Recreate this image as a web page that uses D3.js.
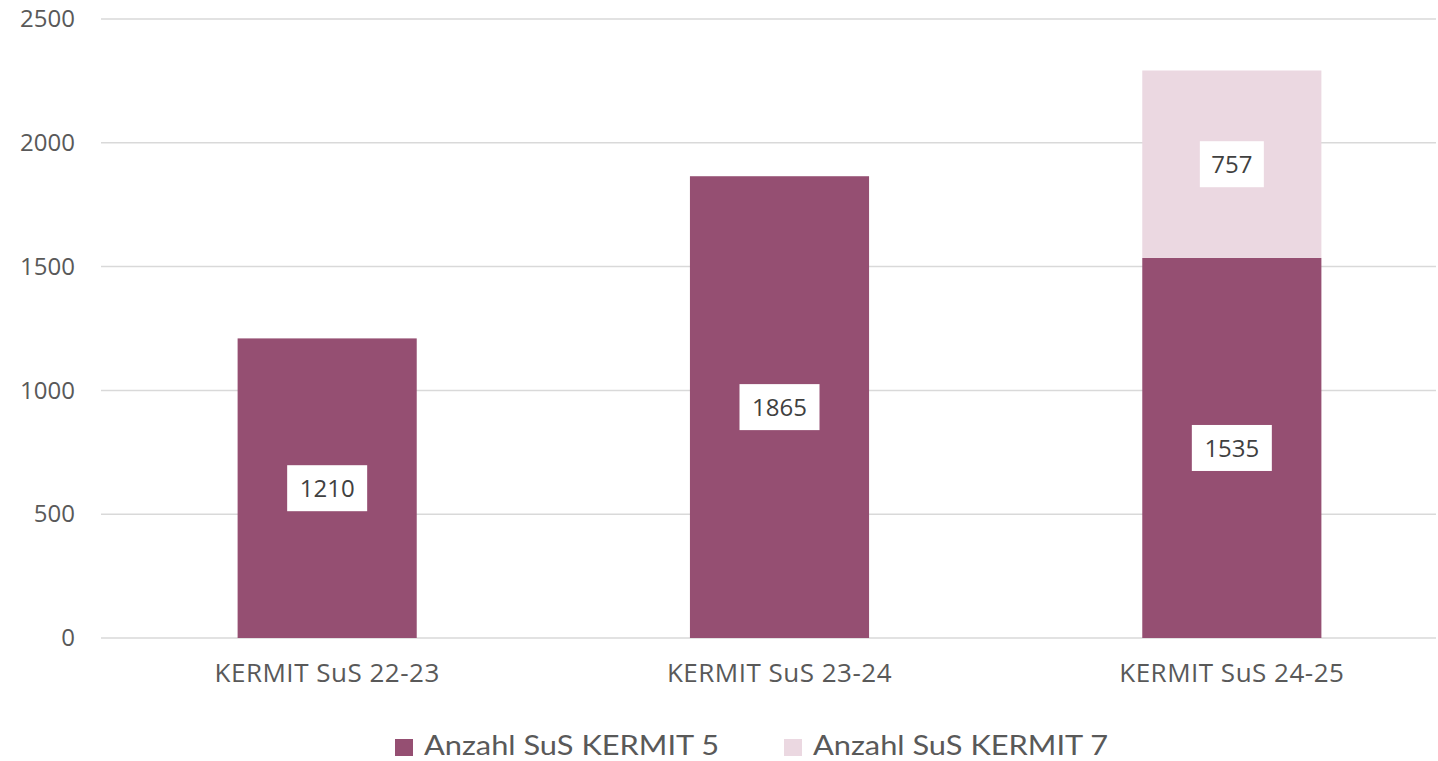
<!DOCTYPE html>
<html>
<head>
<meta charset="utf-8">
<script src="https://cdn.jsdelivr.net/npm/d3@7"></script>
<style>
  body { margin: 0; background: #fff; }
  text { font-family: "Open Sans", sans-serif; }
</style>
</head>
<body>
<div id="chart"></div>
<script>
// chart values
const categories = ["KERMIT SuS 22-23", "KERMIT SuS 23-24", "KERMIT SuS 24-25"];
const seriesNames = ["Anzahl SuS KERMIT 5", "Anzahl SuS KERMIT 7"];
const kermit5 = [1210, 1865, 1535];
const kermit7 = [0, 0, 757];
const yTicks = [0, 500, 1000, 1500, 2000, 2500];
const colors = ["#954f72", "#ebd8e1"];

const width = 1438, height = 761;
const plotLeft = 101, plotRight = 1436;

const svg = d3.select("#chart").append("svg")
    .attr("width", width)
    .attr("height", height);

const x = d3.scaleBand()
    .domain(categories)
    .range([plotLeft, 1458])
    .paddingInner(0.604)
    .paddingOuter(0.302);

const y = d3.scaleLinear().domain([0, 2500]).range([638, 19]);

// horizontal gridlines
svg.append("g")
    .selectAll("line")
    .data(yTicks)
    .join("line")
    .attr("x1", plotLeft)
    .attr("x2", plotRight)
    .attr("y1", d => y(d))
    .attr("y2", d => y(d))
    .attr("stroke", "#d9d9d9")
    .attr("stroke-width", 1.5);

// y axis labels
const yAxis = svg.append("g")
    .attr("transform", "translate(75,0)")
    .call(d3.axisLeft(y).tickValues(yTicks).tickFormat(d3.format("d")).tickSize(0).tickPadding(0));
yAxis.select(".domain").remove();
yAxis.selectAll("text")
    .style("font-size", "24px")
    .style("font-family", "'Open Sans', sans-serif")
    .attr("fill", "#595959");

// x axis labels
const xAxis = svg.append("g")
    .attr("transform", "translate(0,682)")
    .call(d3.axisBottom(x).tickSize(0).tickPadding(0));
xAxis.select(".domain").remove();
xAxis.selectAll("text")
    .attr("dy", 0)
    .style("font-size", "26px")
    .style("letter-spacing", "0.5px")
    .style("font-family", "'Open Sans', sans-serif")
    .attr("fill", "#595959");

// stacked bars
const rows = categories.map((c, i) => ({cat: c, k5: kermit5[i], k7: kermit7[i]}));
const stack = d3.stack().keys(["k5", "k7"])(rows);

const layers = svg.append("g")
    .selectAll("g")
    .data(stack)
    .join("g")
    .attr("fill", (d, i) => colors[i]);

layers.selectAll("rect")
    .data(d => d.filter(s => s[1] - s[0] > 0))
    .join("rect")
    .attr("x", d => x(d.data.cat))
    .attr("width", x.bandwidth())
    .attr("y", d => y(d[1]))
    .attr("height", d => y(d[0]) - y(d[1]));

// data labels in white boxes
const labels = [];
stack.forEach(layer => layer.forEach(s => {
    if (s[1] - s[0] > 0) labels.push({cat: s.data.cat, v: s[1] - s[0], mid: (s[0] + s[1]) / 2});
}));

const lab = svg.append("g")
    .selectAll("g")
    .data(labels)
    .join("g")
    .attr("transform", d => `translate(${x(d.cat) + x.bandwidth() / 2},${y(d.mid)})`);

lab.append("rect")
    .attr("x", d => String(d.v).length === 4 ? -40 : -32)
    .attr("width", d => String(d.v).length === 4 ? 80 : 64)
    .attr("y", -23)
    .attr("height", 46)
    .attr("fill", "#fff");

lab.append("text")
    .attr("text-anchor", "middle")
    .attr("dy", "0.36em")
    .style("font-size", "24px")
    .attr("fill", "#404040")
    .text(d => d.v);

// legend
const legendX = [395, 784];
const legend = svg.append("g")
    .selectAll("g")
    .data(seriesNames)
    .join("g")
    .attr("transform", (d, i) => `translate(${legendX[i]},739)`);

legend.append("rect")
    .attr("width", 18)
    .attr("height", 17)
    .attr("fill", (d, i) => colors[i]);

legend.append("text")
    .attr("x", 29)
    .attr("y", 16)
    .style("font-size", "26px")
    .style("font-family", "'Lato', sans-serif")
    .attr("fill", "#595959")
    .attr("textLength", 295)
    .attr("lengthAdjust", "spacingAndGlyphs")
    .text(d => d);
</script>
</body>
</html>
